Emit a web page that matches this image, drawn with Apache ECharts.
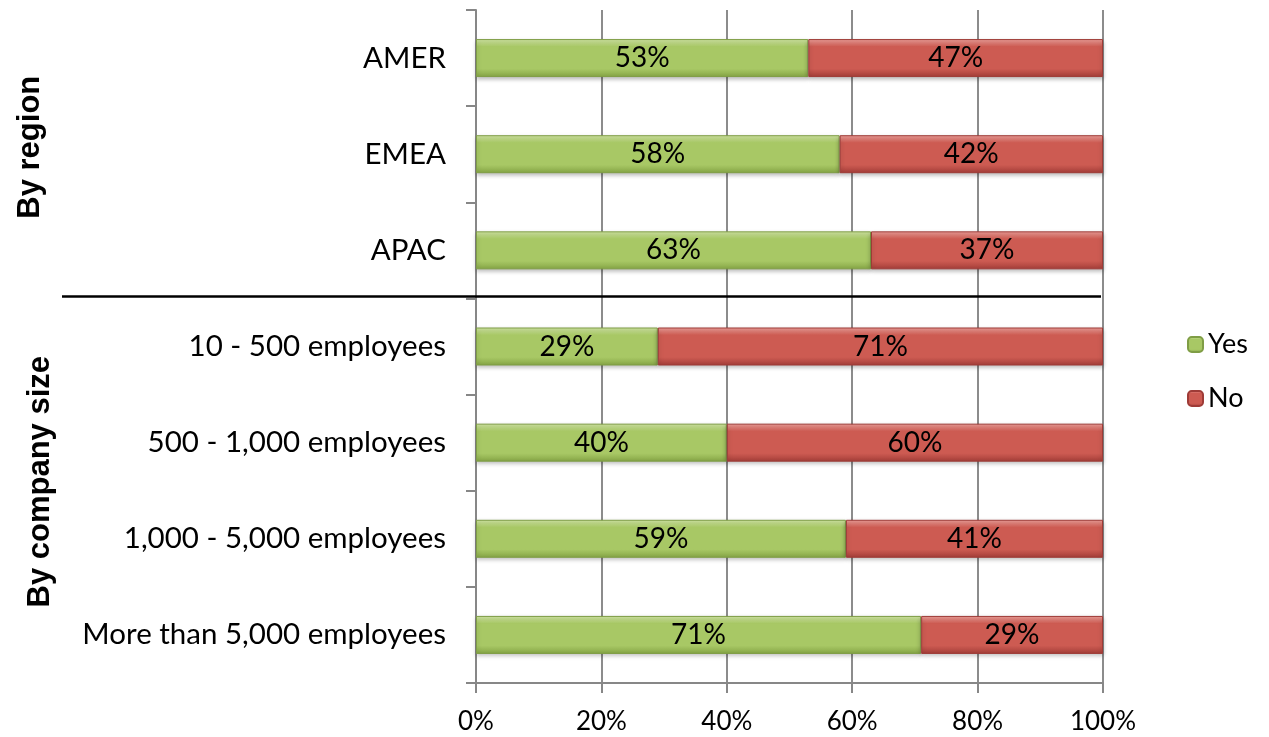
<!DOCTYPE html>
<html>
<head>
<meta charset="utf-8">
<script src="https://cdn.jsdelivr.net/npm/echarts@6/dist/echarts.min.js"></script>
<style>
html,body{margin:0;padding:0;background:#fff;}
#chart{width:1269px;height:737px;}
</style>
</head>
<body>
<div id="chart"></div>
<script>
// Categories listed bottom-to-top (category axis on y starts at bottom)
const categories = ['More than 5,000 employees','1,000 - 5,000 employees','500 - 1,000 employees','10 - 500 employees','APAC','EMEA','AMER'];
const yesValues = [71, 59, 40, 29, 63, 58, 53];
const noValues  = [29, 41, 60, 71, 37, 42, 47];
const xTicks = [0, 20, 40, 60, 80, 100];
const groupLabels = ['By region', 'By company size'];

const FONT = 'Lato, "Open Sans", sans-serif';

function grad(top, mid, bot){
  return new echarts.graphic.LinearGradient(0,0,0,1,[
    {offset:0, color:top},{offset:0.2, color:mid},{offset:0.78, color:mid},{offset:1, color:bot}
  ]);
}

const chart = echarts.init(document.getElementById('chart'), null, {renderer:'canvas'});
const option = {
  animation:false,
  grid:{left:476, right:166, top:10, bottom:54, containLabel:false},
  legend:{
    data:['Yes','No'], orient:'vertical', left:1182, top:326, itemGap:27,
    itemWidth:15, itemHeight:15,
    textStyle:{fontFamily:FONT, fontSize:27, color:'#000'}
  },
  xAxis:{
    type:'value', min:0, max:100, interval:20,
    axisLine:{show:true, lineStyle:{color:'#878787', width:2}},
    axisTick:{show:true, length:10, lineStyle:{color:'#878787', width:2}},
    splitLine:{show:true, lineStyle:{color:'#8c8c8c', width:2}},
    axisLabel:{formatter:'{value}%', fontFamily:FONT, fontSize:26, color:'#000', margin:26}
  },
  yAxis:{
    type:'category', data:categories,
    axisLine:{show:true, lineStyle:{color:'#878787', width:2}},
    axisTick:{show:true, length:10, lineStyle:{color:'#878787', width:2}},
    axisLabel:{fontFamily:FONT, fontSize:29.5, color:'#000', margin:30}
  },
  series:[
    {
      name:'Yes', type:'bar', stack:'t', data:yesValues, barWidth:38,
      itemStyle:{color:grad('#d3e8a6','#a8c865','#85a545'), borderColor:'#7f9d45', borderWidth:1,
        shadowColor:'rgba(0,0,0,0.25)', shadowBlur:4, shadowOffsetY:2},
      label:{show:true, position:'inside', formatter:'{c}%', fontFamily:FONT, fontSize:28, color:'#000'}
    },
    {
      name:'No', type:'bar', stack:'t', data:noValues, barWidth:38,
      itemStyle:{color:grad('#f0a19b','#cd5b52','#a33d38'), borderColor:'#9e3b37', borderWidth:1,
        shadowColor:'rgba(0,0,0,0.25)', shadowBlur:4, shadowOffsetY:2},
      label:{show:true, position:'inside', formatter:'{c}%', fontFamily:FONT, fontSize:28, color:'#000'}
    }
  ]
};
chart.setOption(option);

// Divider between the two groups and group titles, positioned from the axis scale
const yAPAC = chart.convertToPixel({yAxisIndex:0}, 'APAC');
const y10 = chart.convertToPixel({yAxisIndex:0}, '10 - 500 employees');
const yDiv = (yAPAC + y10) / 2 - 2;
const xRight = chart.convertToPixel({xAxisIndex:0}, 100);
const yTop = chart.convertToPixel({yAxisIndex:0}, 'AMER');
const yBot = chart.convertToPixel({yAxisIndex:0}, 'More than 5,000 employees');
chart.setOption({
  graphic:[
    {type:'line', shape:{x1:62, y1:yDiv, x2:xRight-2, y2:yDiv}, style:{stroke:'#000', lineWidth:2.5}, z:100},
    {type:'text', x:30, y:(yTop+yAPAC)/2 - 7, rotation:Math.PI/2,
      style:{text:groupLabels[0], font:'bold 31px "Liberation Sans", Arial, sans-serif', fill:'#000', align:'center', verticalAlign:'middle'}},
    {type:'text', x:40, y:(y10+yBot)/2 - 9, rotation:Math.PI/2,
      style:{text:groupLabels[1], font:'bold 31px "Liberation Sans", Arial, sans-serif', fill:'#000', align:'center', verticalAlign:'middle'}}
  ]
});
</script>
</body>
</html>
